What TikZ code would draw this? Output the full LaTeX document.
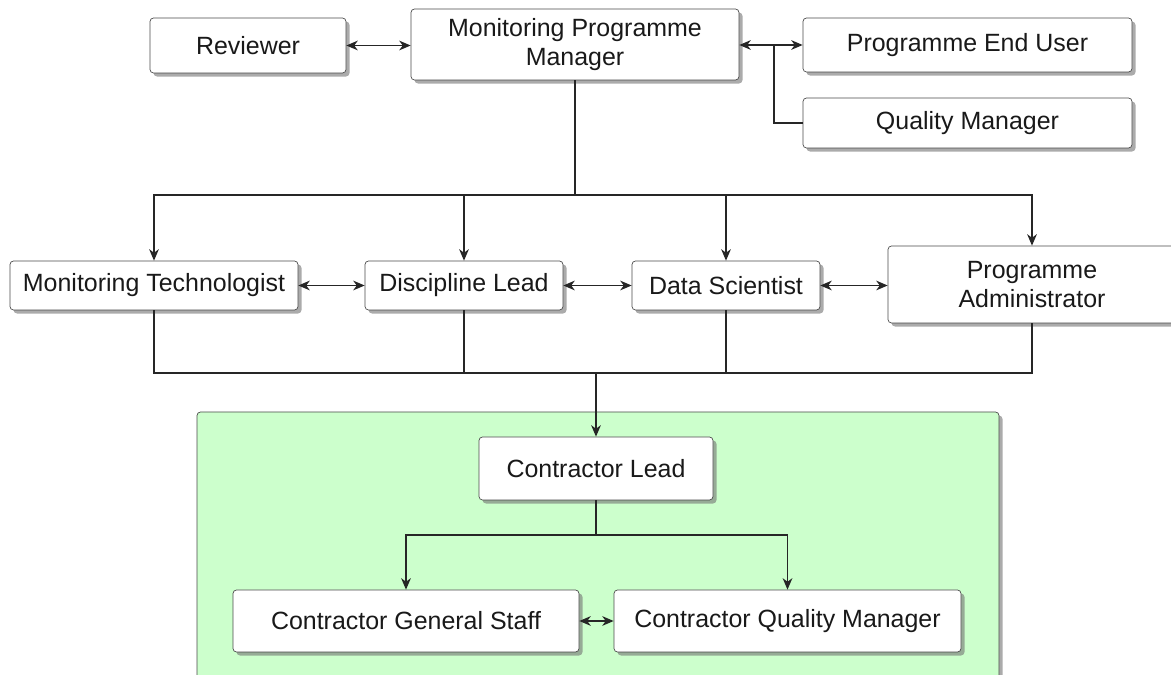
\documentclass[tikz,border=0pt]{standalone}
\usepackage{fontspec}
\setmainfont{Liberation Sans}
\usepackage{tikz}
\usetikzlibrary{arrows, arrows.meta, shadows}
\definecolor{contractgreen}{RGB}{204,255,204}
\tikzset{box/.style = {shape = rectangle, rounded corners = 2pt, draw = black!70, fill = white, align = center, text = black!90, font = \fontsize{14.2}{17}\selectfont, drop shadow = {shadow xshift = 2pt, shadow yshift = -2pt, fill = black!55, opacity = 0.6}}}
\tikzset{boxsize/.style 2 args = {minimum width = #1*0.02cm, minimum height = #2*0.02cm}}
\tikzset{edge/.style = {-, draw = black!85, line width = 0.7pt, > = {Stealth[length = 6.5pt, width = 5.5pt, inset = 2pt]}}}

\begin{document}
\begin{tikzpicture}[x = 0.02cm, y = -0.02cm]
				\clip (0, 0) rectangle (1171, 675);
				\fill[white] (0, 0) rectangle (1171, 675);

				% contractor area
				\draw[draw = black!70, fill = contractgreen, rounded corners = 2pt, drop shadow = {shadow xshift = 2pt, shadow yshift = -2pt, fill = black!55, opacity = 0.6}] (197, 412) rectangle (999, 700);

				\node[box, boxsize = {196}{55}] (rev) at (248, 45.5) {Reviewer};
				\node[box, boxsize = {328}{71}] (mpm) at (575, 44.5) {Monitoring Programme\\Manager};
				\node[box, boxsize = {329}{54}] (peu) at (967.5, 45) {Programme End User};
				\node[box, boxsize = {329}{50}] (qm) at (967.5, 123) {Quality Manager};

				\node[box, boxsize = {288}{49}] (mt) at (154, 285.5) {Monitoring Technologist};
				\node[box, boxsize = {198}{49}] (dl) at (464, 285.5) {Discipline Lead};
				\node[box, boxsize = {188}{49}] (ds) at (726, 285.5) {Data Scientist};
				\node[box, boxsize = {288}{77}] (pa) at (1032, 284.5) {Programme\\Administrator};

				\node[box, boxsize = {234}{63}] (cl) at (596, 468.5) {Contractor Lead};
				\node[box, boxsize = {346}{62}] (cgs) at (406, 621) {Contractor General Staff};
				\node[box, boxsize = {347}{62}] (cqm) at (787.5, 621) {Contractor Quality Manager};

				\coordinate (q) at (774, 45);
				\coordinate (t) at (575, 195);
				\coordinate (b) at (596, 373);
				\coordinate (c) at (596, 535);

				% top row
				\draw[edge, <->] (rev.east) -- (rev.east -| mpm.west);
				\draw[edge, <->] (peu.west -| mpm.east) -- (peu.west);
				\draw[edge] (qm.west) -| (q);

				% manager to the team
				\draw[edge] (mpm) -- (t);
				\draw[edge, ->] (t) -| (mt.north);
				\draw[edge, ->] (t) -| (dl.north);
				\draw[edge, ->] (t) -| (ds.north);
				\draw[edge, ->] (t) -| (pa.north);

				\draw[edge, <->] (mt) -- (dl);
				\draw[edge, <->] (dl) -- (ds);
				\draw[edge, <->] (ds.east) -- (ds.east -| pa.west);

				% team to the contractor
				\draw[edge] (mt.south) |- (b);
				\draw[edge] (dl.south) |- (b);
				\draw[edge] (ds.south) |- (b);
				\draw[edge] (pa.south) |- (b);
				\draw[edge, ->] (b) -- (cl);

				\draw[edge] (cl) -- (c);
				\draw[edge, ->] (c) -| (cgs.north);
				\draw[edge, ->] (c) -| (cqm.north);
				\draw[edge, <->] (cgs) -- (cqm);
			\end{tikzpicture}
\end{document}
